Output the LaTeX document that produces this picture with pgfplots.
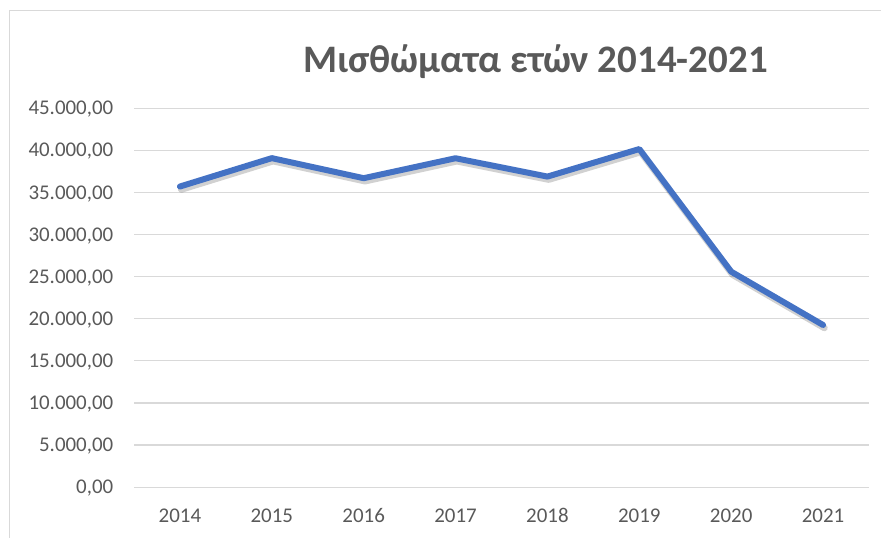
\documentclass[border=0pt]{standalone}
\usepackage{pgfplots}
\pgfplotsset{compat=1.18}
\usepackage{fontspec}
\setmainfont{Carlito}
\definecolor{linecol}{HTML}{4472C4}
\definecolor{txtcol}{HTML}{595959}
\definecolor{gridcol}{HTML}{D9D9D9}
\begin{document}
\begin{tikzpicture}
\useasboundingbox (0,0) rectangle (660.75pt,403.5pt);
\draw[gridcol, line width=0.9pt] (7.1pt,-20pt) -- (7.1pt,395.6pt) -- (700pt,395.6pt);
\node[txtcol, font=\fontsize{29.2}{34}\selectfont\bfseries] at (401.6pt,357pt) {Μισθώματα ετών 2014-2021};
\begin{axis}[
  at={(100.5pt,38.1pt)}, anchor=south west,
  width=551.25pt, height=284.25pt, scale only axis,
  xmin=-0.5, xmax=7.5, ymin=0, ymax=45000,
  xtick={0,1,2,3,4,5,6,7},
  xticklabels={2014,2015,2016,2017,2018,2019,2020,2021},
  ytick={0,5000,10000,15000,20000,25000,30000,35000,40000,45000},
  scaled y ticks=false,
  axis line style={draw=none},
  major tick length=0pt,
  ymajorgrids,
  grid style={gridcol, line width=0.9pt},
  tick label style={txtcol, font=\fontsize{15.7}{18}\selectfont, text height=9.9pt, text depth=0pt},
  yticklabel style={/pgf/number format/fixed, /pgf/number format/fixed zerofill, /pgf/number format/precision=2, /pgf/number format/use comma, /pgf/number format/1000 sep={.}, /pgf/number format/assume math mode=true, xshift=-12pt},
  xticklabel style={yshift=-13pt},
  clip=false,
]
\addplot[black, opacity=0.18, line width=5pt, line join=round, line cap=round, xshift=1pt, yshift=-2.2pt]
  coordinates {(0,35700) (1,39070) (2,36690) (3,39060) (4,36880) (5,40150) (6,25590) (7,19260)};
\addplot[linecol, line width=4.5pt, line join=round, line cap=round]
  coordinates {(0,35700) (1,39070) (2,36690) (3,39060) (4,36880) (5,40150) (6,25590) (7,19260)};
\end{axis}
\end{tikzpicture}
\end{document}
